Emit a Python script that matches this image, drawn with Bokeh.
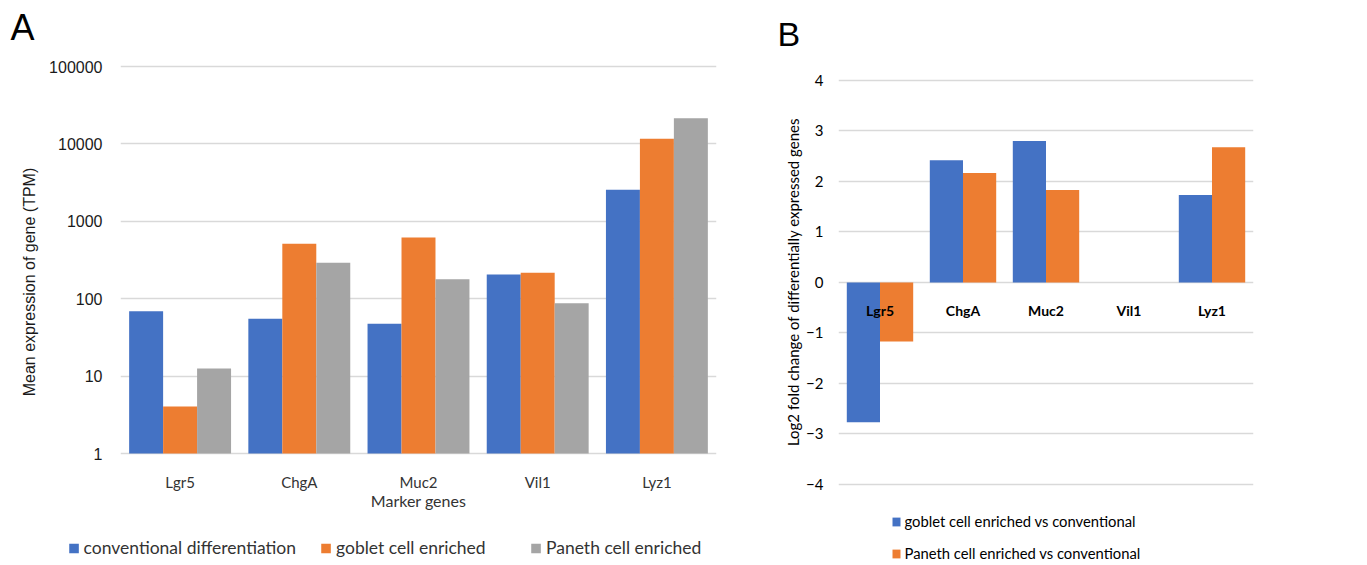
from bokeh.plotting import figure
from bokeh.models import (FactorRange, Range1d, FixedTicker, PrintfTickFormatter,
                          Legend, LegendItem, ColumnDataSource)
from bokeh.transform import dodge
from bokeh.layouts import row
from bokeh.core.properties import value
from bokeh.embed import file_html
from bokeh.resources import INLINE

# ---------------- data ----------------
genes = ["Lgr5", "ChgA", "Muc2", "Vil1", "Lyz1"]
conventional = [69, 55, 47.4, 205, 2550]
goblet = [4.05, 512, 618, 216, 11640]
paneth = [12.5, 291, 179, 87.5, 21500]
a_ticks = [1, 10, 100, 1000, 10000, 100000]
a_x_title = "Marker genes"

goblet_vs_conv = [-2.77, 2.42, 2.80, 0.0, 1.73]
paneth_vs_conv = [-1.17, 2.17, 1.83, 0.0, 2.68]
b_ticks = [-4, -3, -2, -1, 0, 1, 2, 3, 4]

names_a = ["conventional differentiation", "goblet cell enriched", "Paneth cell enriched"]
names_b = ["goblet cell enriched vs conventional", "Paneth cell enriched vs conventional"]

BLUE, ORANGE, GRAY = "#4472C4", "#ED7D31", "#A5A5A5"
GRID = "#D9D9D9"
CAL = "Lato"
ARI = "Liberation Sans"

# shared frame geometry (both panels share top/bottom borders)
TOP, FRAME_H, BOTTOM = 52, 459, 53

# ---------------- panel A ----------------
srcA = ColumnDataSource(dict(genes=genes, conv=conventional, gob=goblet, pan=paneth,
                             one=[1] * len(genes)))
pA = figure(x_range=FactorRange(*genes), y_range=Range1d(0.1781, 151700), y_axis_type="log",
            x_axis_location=None,
            frame_width=596, frame_height=FRAME_H,
            min_border_left=120, min_border_right=52, min_border_top=TOP, min_border_bottom=BOTTOM,
            output_backend="svg", toolbar_location=None, title="A")
pA.outline_line_color = None
pA.title.text_font = ARI
pA.title.text_font_size = "36px"
pA.title.text_font_style = "normal"
pA.title.text_color = "#000000"
pA.title.offset = -110
pA.title.standoff = 9

bw = 0.285
rA1 = pA.vbar(x=dodge("genes", -bw, range=pA.x_range), top="conv", bottom=1, width=bw,
              source=srcA, fill_color=BLUE, line_color=None)
rA2 = pA.vbar(x=dodge("genes", 0, range=pA.x_range), top="gob", bottom=1, width=bw,
              source=srcA, fill_color=ORANGE, line_color=None)
rA3 = pA.vbar(x=dodge("genes", bw, range=pA.x_range), top="pan", bottom=1, width=bw,
              source=srcA, fill_color=GRAY, line_color=None)
# category labels under the value-1 baseline
pA.text(x="genes", y="one", text="genes", source=srcA, text_align="center",
        text_baseline="alphabetic", y_offset=28, text_font=value(CAL),
        text_font_size="15px", text_color="#333333")
# x-axis title, centred under the middle category
pA.text(x=[genes[len(genes) // 2]], y=[1], text=[a_x_title], text_align="center",
        text_baseline="alphabetic", y_offset=47, text_font=value(CAL),
        text_font_size="16px", text_color="#333333")

pA.xgrid.grid_line_color = None
pA.ygrid.grid_line_color = GRID
pA.ygrid.grid_line_width = 1.3
pA.yaxis.ticker = FixedTicker(ticks=a_ticks, minor_ticks=[])
pA.yaxis.formatter = PrintfTickFormatter(format="%d")
pA.yaxis.axis_line_color = None
pA.yaxis.major_tick_line_color = None
pA.yaxis.minor_tick_line_color = None
pA.yaxis.major_tick_out = 0
pA.yaxis.major_tick_in = 0
pA.yaxis.minor_tick_out = 0
pA.yaxis.major_label_text_font = ARI
pA.yaxis.major_label_text_font_size = "16px"
pA.yaxis.major_label_text_color = "#1a1a1a"
pA.yaxis.major_label_standoff = 18
pA.yaxis.axis_label = "Mean expression of gene (TPM)"
pA.yaxis.axis_label_text_font = ARI
pA.yaxis.axis_label_text_font_size = "16px"
pA.yaxis.axis_label_text_font_style = "normal"
pA.yaxis.axis_label_text_color = "#1a1a1a"
pA.yaxis.axis_label_standoff = 8

legA = Legend(items=[LegendItem(label=names_a[0], renderers=[rA1]),
                     LegendItem(label=names_a[1], renderers=[rA2]),
                     LegendItem(label=names_a[2], renderers=[rA3])],
              orientation="horizontal", location="top_right",
              title=" ", title_text_font_size="1px", title_standoff=25,
              glyph_width=12, glyph_height=12, label_standoff=4, spacing=24,
              label_width=170,
              padding=0, margin=0, border_line_color=None, background_fill_alpha=0,
              label_text_font=CAL, label_text_font_size="17.5px", label_text_color="#333333",
              label_height=18)
pA.add_layout(legA, "below")

# ---------------- panel B ----------------
srcB = ColumnDataSource(dict(genes=genes, gob=goblet_vs_conv, pan=paneth_vs_conv,
                             zero=[0] * len(genes)))
pB = figure(x_range=FactorRange(*genes), y_range=Range1d(-4.535, 4.554),
            x_axis_location=None,
            frame_width=415, frame_height=FRAME_H,
            min_border_left=70, min_border_right=100, min_border_top=TOP, min_border_bottom=BOTTOM,
            output_backend="svg", toolbar_location=None, title="B")
pB.outline_line_color = None
pB.title.text_font = ARI
pB.title.text_font_size = "34px"
pB.title.text_font_style = "normal"
pB.title.text_color = "#000000"
pB.title.offset = -61
pB.title.standoff = 0

bwb = 0.4
rB1 = pB.vbar(x=dodge("genes", -bwb / 2, range=pB.x_range), top="gob", bottom=0, width=bwb,
              source=srcB, fill_color=BLUE, line_color=None)
rB2 = pB.vbar(x=dodge("genes", bwb / 2, range=pB.x_range), top="pan", bottom=0, width=bwb,
              source=srcB, fill_color=ORANGE, line_color=None)
pB.text(x="genes", y="zero", text="genes", source=srcB, text_align="center",
        text_baseline="alphabetic", y_offset=28, text_font=value(CAL),
        text_font_size="14px", text_font_style="bold", text_color="#000000")

pB.xgrid.grid_line_color = None
pB.ygrid.grid_line_color = GRID
pB.ygrid.grid_line_width = 1.3
pB.yaxis.ticker = FixedTicker(ticks=b_ticks, minor_ticks=[])
pB.yaxis.axis_line_color = None
pB.yaxis.major_tick_line_color = None
pB.yaxis.minor_tick_line_color = None
pB.yaxis.major_tick_out = 0
pB.yaxis.major_tick_in = 0
pB.yaxis.minor_tick_out = 0
pB.yaxis.major_label_text_font = CAL
pB.yaxis.major_label_text_font_size = "15px"
pB.yaxis.major_label_text_color = "#000000"
pB.yaxis.major_label_standoff = 15
pB.yaxis.axis_label = "Log2 fold change of differentially expressed genes"
pB.yaxis.axis_label_text_font = CAL
pB.yaxis.axis_label_text_font_size = "15px"
pB.yaxis.axis_label_text_font_style = "normal"
pB.yaxis.axis_label_text_color = "#000000"
pB.yaxis.axis_label_standoff = 1

legB = Legend(items=[LegendItem(label=names_b[0], renderers=[rB1]),
                     LegendItem(label=names_b[1], renderers=[rB2])],
              orientation="vertical", location="top_center",
              title=" ", title_text_font_size="1px", title_standoff=0,
              glyph_width=10, glyph_height=11, label_standoff=4, spacing=14,
              label_width=296,
              padding=0, margin=0, border_line_color=None, background_fill_alpha=0,
              label_text_font=CAL, label_text_font_size="14.8px", label_text_color="#000000",
              label_height=18)
pB.add_layout(legB, "below")

layout = row(pA, pB)
open("out.html", "w").write(file_html(layout, INLINE))
